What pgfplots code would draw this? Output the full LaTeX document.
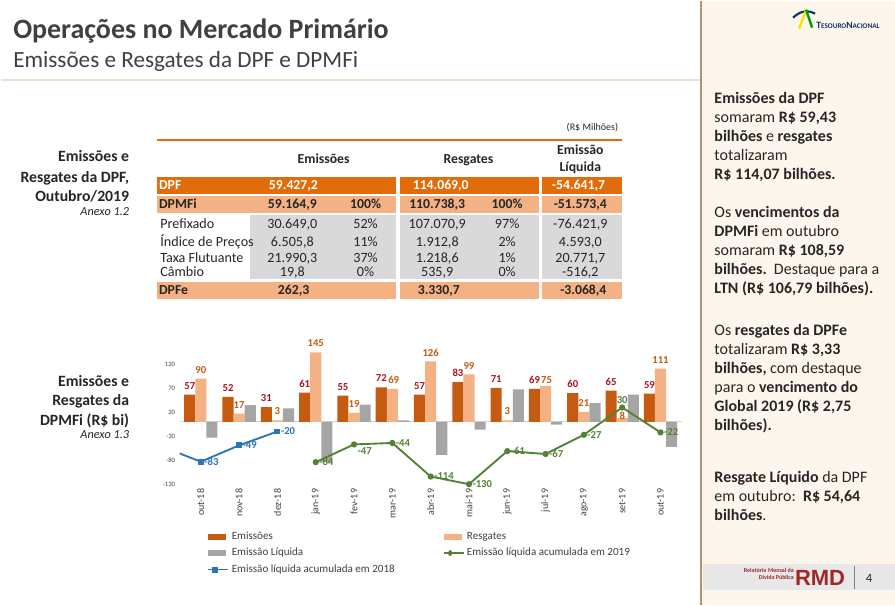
\documentclass[border=0pt]{standalone}
\usepackage{pgfplots}
\pgfplotsset{compat=1.18}
\usepackage{fontspec}
\setmainfont{Carlito}
\newfontfamily\arialfont{Liberation Sans}

\definecolor{emis}{RGB}{197,90,17}
\definecolor{resg}{RGB}{244,177,131}
\definecolor{liq}{RGB}{165,165,165}
\definecolor{azul}{RGB}{46,117,182}
\definecolor{verde}{RGB}{84,130,53}
\definecolor{lblemis}{RGB}{175,15,30}
\definecolor{lblresg}{RGB}{196,89,17}
\definecolor{txt}{RGB}{38,38,38}
\definecolor{titulo}{RGB}{64,64,64}
\definecolor{laranja}{RGB}{226,107,10}
\definecolor{salmao}{RGB}{244,177,131}
\definecolor{cinzatab}{RGB}{217,217,217}
\definecolor{painel}{RGB}{253,246,236}
\definecolor{borda}{RGB}{190,140,110}
\definecolor{rmd}{RGB}{160,40,40}
\definecolor{faixa}{RGB}{232,232,232}
\definecolor{pessego}{RGB}{243,222,203}
\definecolor{marinho}{RGB}{20,50,110}

\newcommand{\tb}{\bfseries\fontsize{10.3}{12}\selectfont}

\begin{document}
\begin{tikzpicture}
\begin{scope}[x=0.75pt,y=-0.75pt]
% page
\fill[white] (0,0) rectangle (895,605);
\fill[painel] (701,0) rectangle (895,605);
\draw[borda, line width=1.1pt] (701,0) -- (701,605);

% title
\node[anchor=base west, inner sep=0, text=titulo, font=\bfseries\fontsize{21}{25}\selectfont] at (12,38) {Operações no Mercado Primário};
\node[anchor=base west, inner sep=0, text=titulo, font=\fontsize{17.4}{21}\selectfont] at (12,66.5) {Emissões e Resgates da DPF e DPMFi};
\draw[pessego, line width=1.5pt] (0,79.5) -- (700,79.5);

% left captions
\begin{scope}[every node/.style={anchor=base east, inner sep=0, text=txt}]
\node[font=\bfseries\fontsize{11.8}{14}\selectfont] at (128.5,160.7) {Emissões e};
\node[font=\bfseries\fontsize{11.8}{14}\selectfont] at (128.5,181.7) {Resgates da DPF,};
\node[font=\bfseries\fontsize{11.8}{14}\selectfont] at (128.5,201) {Outubro/2019};
\node[font=\itshape\fontsize{9.2}{11}\selectfont] at (128.5,215) {Anexo 1.2};
\node[font=\bfseries\fontsize{11.8}{14}\selectfont] at (128.5,385.7) {Emissões e};
\node[font=\bfseries\fontsize{11.8}{14}\selectfont] at (128.5,405.7) {Resgates da};
\node[font=\bfseries\fontsize{11.8}{14}\selectfont] at (128.5,425) {DPMFi (R\$ bi)};
\node[font=\itshape\fontsize{9.2}{11}\selectfont] at (128.5,438.5) {Anexo 1.3};
\end{scope}

% table
\node[anchor=base east, inner sep=0, text=txt, font=\fontsize{7.5}{9}\selectfont] at (618,130) {(R\$ Milhões)};
\draw[laranja, line width=1.6pt] (156,139.3) -- (621.7,139.3);
\foreach \a/\b/\c in {176/193.3/laranja, 195.7/212.3/salmao, 281.7/298.3/salmao}{
  \fill[\c] (156,\a) rectangle (395.7,\b);
  \fill[\c] (399,\a) rectangle (538.3,\b);
  \fill[\c] (541.7,\a) rectangle (621.7,\b);
}
\fill[cinzatab] (249,215) rectangle (395.7,278.3);
\fill[cinzatab] (399,215) rectangle (538.3,278.3);
\fill[cinzatab] (541.7,215) rectangle (621.7,278.3);

\begin{scope}[every node/.style={inner sep=0, anchor=base, text=txt, font=\fontsize{10.6}{12}\selectfont}]
\node[font=\tb] at (323,163) {Emissões};
\node[font=\tb] at (468,163) {Resgates};
\node[font=\tb] at (580,154) {Emissão};
\node[font=\tb] at (580,171) {Líquida};
% DPF
\node[anchor=base west, text=white, font=\tb] at (158,188.5) {DPF};
\node[anchor=base west, text=white, font=\tb] at (268,188.5) {59.427,2};
\node[anchor=base west, text=white, font=\tb] at (412,188.5) {114.069,0};
\node[anchor=base east, text=white, font=\tb] at (605,188.5) {-54.641,7};
% DPMFi
\node[anchor=base west, font=\tb] at (158,208) {DPMFi};
\node[font=\tb] at (291.7,208) {59.164,9};
\node[font=\tb] at (365,208) {100\%};
\node[font=\tb] at (436.7,208) {110.738,3};
\node[font=\tb] at (506.7,208) {100\%};
\node[font=\tb] at (580,208) {-51.573,4};
% body rows
\node[anchor=base west] at (159.3,228.3) {Prefixado};
\node at (291.7,228.3) {30.649,0};
\node at (365,228.3) {52\%};
\node at (436.7,228.3) {107.070,9};
\node at (506.7,228.3) {97\%};
\node at (580,228.3) {-76.421,9};
\node[anchor=base west] at (159.3,246.3) {Índice de Preços};
\node at (291.7,246.3) {6.505,8};
\node at (365,246.3) {11\%};
\node at (436.7,246.3) {1.912,8};
\node at (506.7,246.3) {2\%};
\node at (580,246.3) {4.593,0};
\node[anchor=base west] at (159.3,262.3) {Taxa Flutuante};
\node at (291.7,262.3) {21.990,3};
\node at (365,262.3) {37\%};
\node at (436.7,262.3) {1.218,6};
\node at (506.7,262.3) {1\%};
\node at (580,262.3) {20.771,7};
\node[anchor=base west] at (159.3,276.5) {Câmbio};
\node at (291.7,276.5) {19,8};
\node at (365,276.5) {0\%};
\node at (436.7,276.5) {535,9};
\node at (506.7,276.5) {0\%};
\node at (580,276.5) {-516,2};
% DPFe
\node[anchor=base west, font=\tb] at (158,294) {DPFe};
\node[anchor=base west, font=\tb] at (277,294) {262,3};
\node[anchor=base west, font=\tb] at (417,294) {3.330,7};
\node[font=\tb] at (583,294) {-3.068,4};
\end{scope}

% right panel text
\begin{scope}[every node/.style={anchor=north west, inner sep=0, align=left, text=txt, font=\fontsize{12}{14.25}\selectfont}]
\node at (714,91.5) {\textbf{Emissões da DPF}\\somaram \textbf{R\$ 59,43}\\\textbf{bilhões} e \textbf{resgates}\\totalizaram\\\textbf{R\$ 114,07 bilhões.}};
\node at (714,205.5) {Os \textbf{vencimentos da}\\\textbf{DPMFi} em outubro\\somaram \textbf{R\$ 108,59}\\\textbf{bilhões.}\ \ Destaque para a\\\textbf{LTN (R\$ 106,79 bilhões).}};
\node at (714,323.5) {Os \textbf{resgates da DPFe}\\totalizaram \textbf{R\$ 3,33}\\\textbf{bilhões,} com destaque\\para o \textbf{vencimento do}\\\textbf{Global 2019 (R\$ 2,75}\\\textbf{bilhões).}};
\node at (714,470.5) {\textbf{Resgate Líquido} da DPF\\em outubro:\ \ \textbf{R\$ 54,64}\\\textbf{bilhões}.};
\end{scope}

% footer
\fill[faixa] (703,564) rectangle (895,590);
\node[anchor=east, inner sep=0, text=rmd, font=\bfseries\fontsize{4.5}{5.5}\selectfont, align=right] at (794,574) {Relatório Mensal da\\Dívida Pública};
\node[inner sep=0, text=rmd, font=\arialfont\bfseries\fontsize{16.5}{18}\selectfont] at (820,577.5) {RMD};
\draw[gray, line width=0.8pt] (854,566) -- (854,589);
\node[inner sep=0, text=txt, font=\fontsize{9.5}{11}\selectfont] at (869,578) {4};

% logo
\draw[marinho, line width=1.6pt] (793,17) .. controls (800,10) and (808,9) .. (815,13);
\draw[yellow!85!orange, line width=1.8pt] (799,28) -- (806,9);
\draw[green!60!black, line width=1.8pt] (806,9) -- (812,27);
\node[anchor=west, inner sep=0, text=marinho, font=\bfseries\fontsize{7.2}{8}\selectfont] at (816,25) {T\fontsize{5.4}{6}\selectfont ESOURO\fontsize{7.2}{8}\selectfont N\fontsize{5.4}{6}\selectfont ACIONAL};
\end{scope}

\begin{axis}[
  at={(134.2pt,-363pt)}, anchor=south west,
  scale only axis, width=376.8pt, height=111.6pt,
  xmin=-0.55, xmax=12.55, ymin=-130, ymax=180,
  axis line style={draw=none}, tick style={draw=none},
  ytick={-130,-80,-30,20,70,120},
  extra y ticks={0}, extra y tick labels={},
  extra y tick style={grid=major, major grid style={draw=black!18, line width=0.8pt}},
  xtick={0,...,12},
  xticklabels={out-18,nov-18,dez-18,jan-19,fev-19,mar-19,abr-19,mai-19,jun-19,jul-19,ago-19,set-19,out-19},
  xticklabel style={rotate=90, anchor=east, font=\fontsize{7.5}{8}\selectfont, text=titulo},
  yticklabel style={font=\fontsize{5}{6}\selectfont, text=titulo},
  /pgf/number format/assume math mode=true,
  legend columns=2,
  legend cell align=left,
  legend style={at={(0.055,-0.3)}, anchor=north west, draw=none, fill=none,
    font=\fontsize{8.3}{9.5}\selectfont, text=titulo, inner sep=0pt, row sep=1.2pt,
    /tikz/every even column/.append style={column sep=34pt}},
]
\addplot[ybar, bar width=0.29, bar shift=-0.29, fill=emis, draw=none,
  nodes near coords,
  every node near coord/.append style={xshift=-8.3pt, yshift=0.5pt, font=\bfseries\fontsize{8}{9}\selectfont, text=lblemis},
  legend image code/.code={\fill[emis] (0pt,-2.25pt) rectangle (13.5pt,2.25pt);}]
  coordinates {(0,57) (1,52) (2,31) (3,61) (4,55) (5,72) (6,57) (7,83) (8,71) (9,69) (10,60) (11,65) (12,59)};
\addlegendentry{Emissões}
\addplot[ybar, bar width=0.29, bar shift=0, fill=resg, draw=none,
  nodes near coords,
  visualization depends on={\thisrow{dx}\as\dx},
  visualization depends on={\thisrow{dy}\as\dy},
  every node near coord/.append style={xshift=\dx pt, yshift=\dy pt, font=\bfseries\fontsize{8}{9}\selectfont, text=lblresg},
  legend image code/.code={\fill[resg] (0pt,-2.25pt) rectangle (13.5pt,2.25pt);}]
  table[x=x, y=y] {
x y dx dy
0 90 0 0.5
1 17 0 0.5
2 3 0 0.5
3 145 0 0.5
4 19 0 0.5
5 69 1 0.5
6 126 0 0.5
7 99 0 0.5
8 3 0 0.5
9 75 0.8 -1.5
10 21 0 0.5
11 8 0 -5
12 111 0 0.5
};
\addlegendentry{Resgates}
\addplot[ybar, bar width=0.29, bar shift=0.29, fill=liq, draw=none,
  legend image code/.code={\fill[liq] (0pt,-2.25pt) rectangle (13.5pt,2.25pt);}]
  coordinates {(0,-33) (1,35) (2,28) (3,-84) (4,36) (5,3) (6,-69) (7,-16) (8,68) (9,-6) (10,39) (11,57) (12,-52)};
\addlegendentry{Emissão Líquida}
\addplot[verde, line width=1.4pt, mark=*, mark size=1.6pt, mark options={fill=verde, draw=verde},
  nodes near coords, point meta=explicit symbolic,
  visualization depends on={value \thisrow{anc}\as\anc},
  every node near coord/.append style={anchor=\anc, inner sep=2pt, font=\bfseries\fontsize{8}{9}\selectfont, text=verde},
  legend image code/.code={\draw[verde, line width=1.2pt] (0pt,0pt) -- (15pt,0pt); \fill[verde] (5pt,0pt) circle (1.4pt);}]
  table[x=x, y=y, meta=lab] {
x y lab anc
3 -84 -84 west
4 -47 -47 {north west}
5 -44 -44 west
6 -114 -114 west
7 -130 -130 west
8 -61 -61 west
9 -67 -67 west
10 -27 -27 west
11 30 30 south
12 -22 -22 west
};
\addlegendentry{Emissão líquida acumulada em 2019}
\addplot[azul, line width=1.4pt, mark=square*, mark size=1.5pt, mark options={fill=azul, draw=azul},
  mark indices={1,2,3},
  nodes near coords, point meta=explicit symbolic,
  every node near coord/.append style={anchor=west, inner sep=2pt, font=\bfseries\fontsize{8}{9}\selectfont, text=azul},
  legend image code/.code={\draw[azul, line width=1.2pt] (0pt,0pt) -- (15pt,0pt); \fill[azul] (3.5pt,-1.5pt) rectangle (6.5pt,1.5pt);}]
  table[x=x, y=y, meta=lab] {
x y lab
-1 -52 {}
0 -83 -83
1 -49 -49
2 -20 -20
};
\addlegendentry{Emissão líquida acumulada em 2018}
\end{axis}
\end{tikzpicture}
\end{document}
